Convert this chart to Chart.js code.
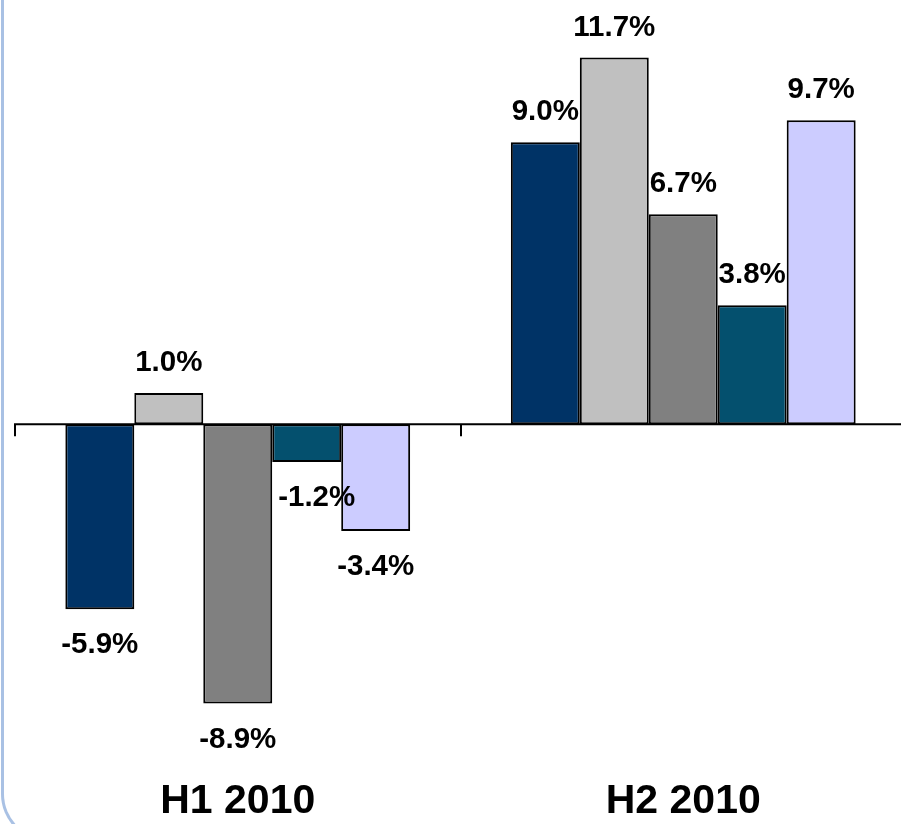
<!DOCTYPE html>
<html>
<head>
<meta charset="utf-8">
<script src="https://cdn.jsdelivr.net/npm/chart.js@4.4.0/dist/chart.umd.min.js"></script>
<style>
html,body{margin:0;padding:0;background:#fff;overflow:hidden}
#wrap{position:relative;width:910px;height:824px}
#frame{position:absolute;left:1px;top:-30px;width:2000px;height:872px;border-left:3px solid #a9c1e4;border-bottom:3px solid #a9c1e4;border-bottom-left-radius:48px;box-sizing:border-box;pointer-events:none}
canvas{position:absolute;left:0;top:0}
</style>
</head>
<body>
<div id="wrap">
  <div id="frame"></div>
  <canvas id="growthChart"></canvas>
</div>
<script>
// categories + series (growth, %)
const periods=['H1 2010','H2 2010'];
const series1=[-5.9,9.0];
const series2=[1.0,11.7];
const series3=[-8.9,6.7];
const series4=[-1.2,3.8];
const series5=[-3.4,9.7];
const seriesColors=['#003366','#c0c0c0','#808080','#04506e','#ccccff'];

const FONT='"Liberation Sans", Arial, Helvetica, sans-serif';

// zero axis line with category tick marks
const zeroAxis={
  id:'zeroAxis',
  afterDatasetsDraw(chart){
    const {ctx,chartArea}=chart;
    const x=chart.scales.x, y=chart.scales.y;
    const y0=y.getPixelForValue(0);
    const half=(x.getPixelForValue(1)-x.getPixelForValue(0))/2;
    ctx.save();
    ctx.strokeStyle='#000';ctx.lineWidth=2;
    ctx.beginPath();
    ctx.moveTo(chartArea.left-1,y0);ctx.lineTo(chartArea.right,y0);
    for(let i=0;i<=periods.length;i++){
      const px=Math.round(x.getPixelForValue(0)-half+i*half*2);
      ctx.moveTo(px,y0);ctx.lineTo(px,y0+12);
    }
    ctx.stroke();
    ctx.restore();
  }
};

// value labels above/below bars
const valueLabels={
  id:'valueLabels',
  afterDatasetsDraw(chart){
    const ctx=chart.ctx;
    ctx.save();
    ctx.font='bold 29.5px '+FONT;
    ctx.fillStyle='#000';ctx.textAlign='center';ctx.textBaseline='middle';
    chart.data.datasets.forEach((ds,di)=>{
      chart.getDatasetMeta(di).data.forEach((bar,i)=>{
        const v=ds.data[i];
        const nudge=(di===3&&i===0)?10:0;
        const ty=v>=0?bar.y-31:bar.y+35;
        ctx.fillText(v.toFixed(1)+'%',bar.x+nudge,ty+1);
      });
    });
    ctx.restore();
  }
};

new Chart(document.getElementById('growthChart'),{
  type:'bar',
  data:{
    labels:periods,
    datasets:[series1,series2,series3,series4,series5].map((d,i)=>({
      label:'Series '+(i+1),data:d,backgroundColor:seriesColors[i],
      borderColor:'#000',borderWidth:2,borderSkipped:false,
      categoryPercentage:0.774,barPercentage:1
    }))
  },
  plugins:[zeroAxis,valueLabels],
  options:{
    responsive:true,maintainAspectRatio:false,animation:false,
    layout:{padding:{left:15,right:4,top:19,bottom:0}},
    plugins:{legend:{display:false},tooltip:{enabled:false}},
    scales:{
      x:{
        grid:{display:false,drawTicks:false},border:{display:false},
        ticks:{color:'#000',padding:3,font:{family:FONT,size:41,weight:'bold',lineHeight:0.93}}
      },
      y:{display:false,min:-11.34,max:12.93}
    }
  }
});
</script>
</body>
</html>
